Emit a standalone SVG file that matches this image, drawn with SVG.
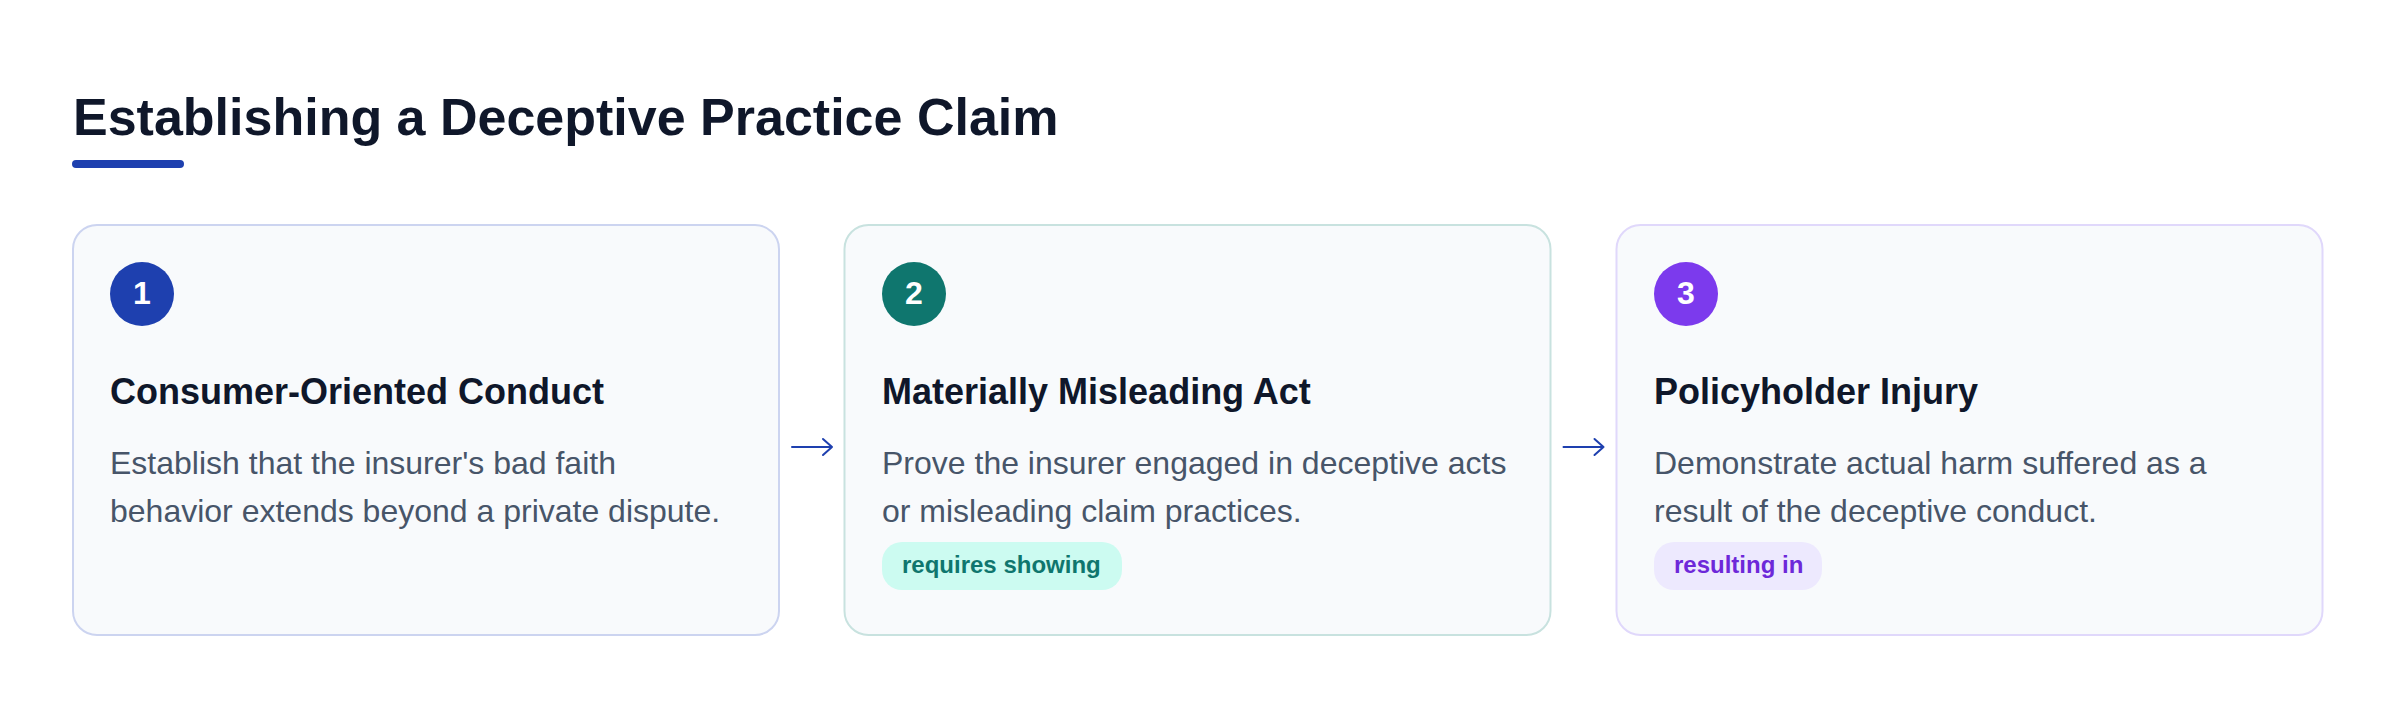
<svg xmlns="http://www.w3.org/2000/svg" width="2400" height="708" viewBox="0 0 2400 708">
  <style>
    .title { font-family: "Liberation Sans", Arial, sans-serif; font-weight: bold; font-size: 52px; fill: #0f172a; }
    .card { fill: #f8fafc; stroke-width: 2; }
    .num { font-family: "Liberation Sans", Arial, sans-serif; font-weight: bold; font-size: 32px; fill: #ffffff; text-anchor: middle; }
    .head { font-family: "Liberation Sans", Arial, sans-serif; font-weight: bold; font-size: 36px; fill: #0f172a; }
    .body { font-family: "Liberation Sans", Arial, sans-serif; font-size: 32px; fill: #475569; }
    .badge { font-family: "Liberation Sans", Arial, sans-serif; font-weight: bold; font-size: 24px; }
    .conn { fill: none; stroke: #1e40af; stroke-width: 2; stroke-linecap: round; stroke-linejoin: round; }
  </style>
  <rect x="0" y="0" width="2400" height="708" fill="#ffffff"/>

  <g id="header">
    <text class="title" x="73" y="135">Establishing a Deceptive Practice Claim</text>
    <rect x="72" y="160" width="112" height="8" rx="4" fill="#1e40af"/>
  </g>

  <g id="node-1">
    <rect class="card" x="73" y="225" width="706" height="410" rx="24" stroke="#ccd4f0"/>
    <circle cx="142" cy="294" r="32" fill="#1e40af"/>
    <text class="num" x="142" y="303.5">1</text>
    <text class="head" x="110" y="404">Consumer-Oriented Conduct</text>
    <text class="body" x="110" y="474">Establish that the insurer's bad faith</text>
    <text class="body" x="110" y="522">behavior extends beyond a private dispute.</text>
  </g>

  <g id="node-2">
    <rect class="card" x="844.5" y="225" width="706" height="410" rx="24" stroke="#c8e2df"/>
    <circle cx="914" cy="294" r="32" fill="#0f766e"/>
    <text class="num" x="914" y="303.5">2</text>
    <text class="head" x="882" y="404">Materially Misleading Act</text>
    <text class="body" x="882" y="474">Prove the insurer engaged in deceptive acts</text>
    <text class="body" x="882" y="522">or misleading claim practices.</text>
    <rect x="882" y="542" width="240" height="48" rx="20" fill="#ccfbf1"/>
    <text class="badge" x="902" y="573" fill="#0f766e">requires showing</text>
  </g>

  <g id="node-3">
    <rect class="card" x="1616.5" y="225" width="706" height="410" rx="24" stroke="#e0d8fb"/>
    <circle cx="1686" cy="294" r="32" fill="#7c3aed"/>
    <text class="num" x="1686" y="303.5">3</text>
    <text class="head" x="1654" y="404">Policyholder Injury</text>
    <text class="body" x="1654" y="474">Demonstrate actual harm suffered as a</text>
    <text class="body" x="1654" y="522">result of the deceptive conduct.</text>
    <rect x="1654" y="542" width="168" height="48" rx="20" fill="#ede9fe"/>
    <text class="badge" x="1674" y="573" fill="#6d28d9">resulting in</text>
  </g>

  <g id="connectors">
    <path class="conn" d="M792 447 H832 M823 439 L832 447 L823 455"/>
    <path class="conn" d="M1563.5 447 H1603.5 M1594.5 439 L1603.5 447 L1594.5 455"/>
  </g>
</svg>
